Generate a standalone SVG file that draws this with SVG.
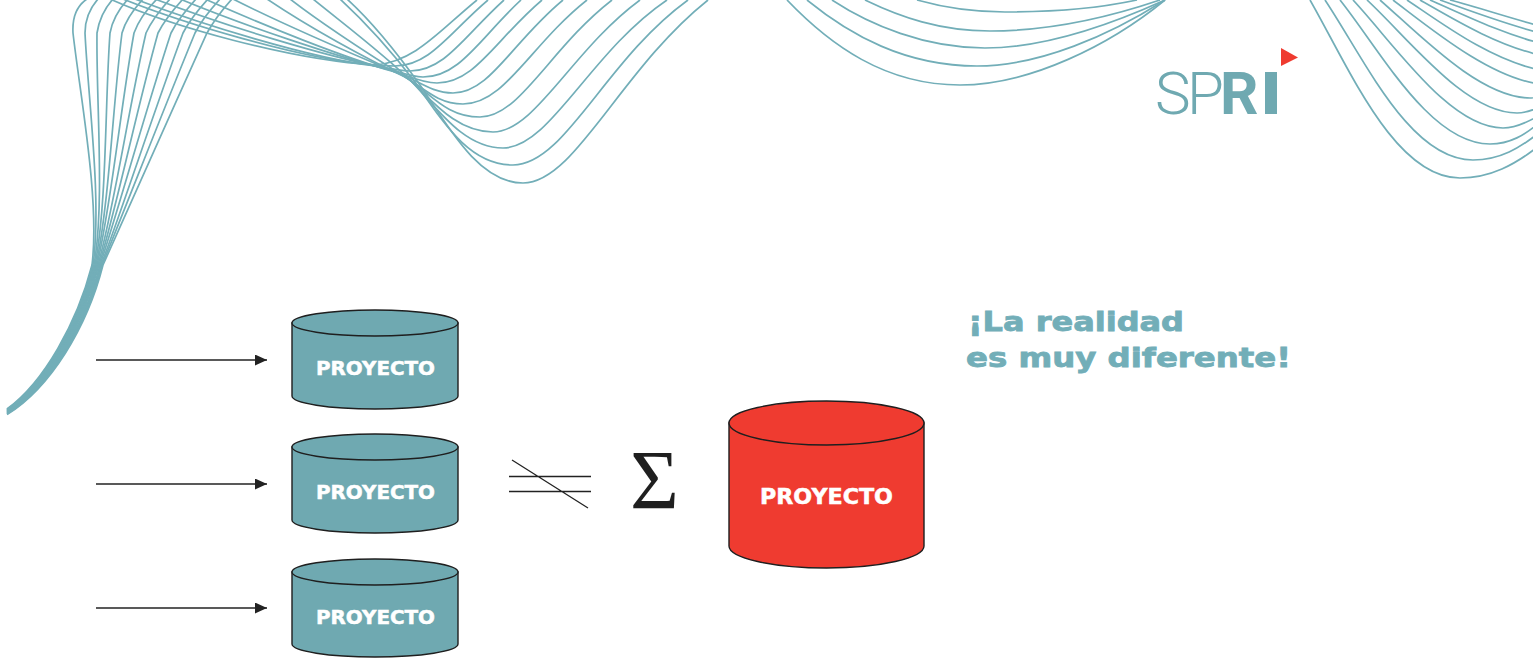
<svg xmlns="http://www.w3.org/2000/svg" width="1533" height="658" viewBox="0 0 1533 658">
<style>
.w{fill:none;stroke:#72aeb8;stroke-width:1.7}
.c{fill:#6fa9b1;stroke:#1f1f1f;stroke-width:1.4}
.r{fill:#ef3b30;stroke:#1f1f1f;stroke-width:1.4}
.a{fill:none;stroke:#222;stroke-width:1.4;marker-end:url(#ah)}
.l{fill:none;stroke:#222;stroke-width:1.3}
.p{font-family:"DejaVu Sans",sans-serif;font-weight:700;fill:#fff;stroke:#fff;stroke-width:.5}
.t{font-family:"DejaVu Sans",sans-serif;font-weight:700;fill:#72aeb8;stroke:#72aeb8;stroke-width:.8;font-size:26px}
.lt{font-family:Roboto,sans-serif;font-weight:300;letter-spacing:-3.500px}
.lb{font-family:Roboto,sans-serif;font-weight:700}
</style>
<defs>
<marker id="ah" markerUnits="userSpaceOnUse" markerWidth="13" markerHeight="12" refX="12" refY="5.500" orient="auto"><path d="M0 0L12 5.500L0 11Z" fill="#222"/></marker>
</defs>
<rect width="1533" height="658" fill="#fff"/>
<g id="waves">
<g id="wave-left-rise">
<path class="w" d="M7 409C44 382 77 323 92 265C100 200 80 95 73 33C72 15 78 5 87 -1"/>
<path class="w" d="M7 409.500C45 383 78 323 93 265C102 201 88 97 85 33C85 20 90 8 98 -1"/>
<path class="w" d="M7 410C45 384 78 324 94 265C105 203 96 99 97 33C99 20 104 9 113 -1"/>
<path class="w" d="M7 410.500C46 384 79 324 95 265C107 204 105 100 110 33C112 22 118 10 128 -1"/>
<path class="w" d="M7 411C46 385 80 325 96 265C109 206 113 102 122 33C125 22 133 10 143 -1"/>
<path class="w" d="M7 411.500C47 385 81 325 97 265C111 207 121 104 134 33C138 22 146 10 157 -1"/>
<path class="w" d="M7 412C47 386 82 326 98 265C114 208 129 106 146 33C151 22 160 10 170 -1"/>
<path class="w" d="M7 412.500C48 386 83 326 99 265C116 210 137 108 158 33C163 23 173 10 183 -1"/>
<path class="w" d="M7 413C48 387 84 327 100 265C118 211 146 109 171 33C176 23 186 10 196 -1"/>
<path class="w" d="M7 413.500C49 387 85 327 101 265C121 213 154 111 183 33C188 23 198 10 208 -1"/>
<path class="w" d="M7 414C49 388 86 328 102 265C123 214 162 113 195 33C200 23 210 10 220 -1"/>
<path class="w" d="M7 414.500C50 388 87 328 103 265C125 215 170 115 207 33C212 24 222 10 232 -1"/>
</g>
<g id="wave-mid">
<path class="w" d="M347 -1C370 20 395 50 420 85C450 130 480 183 523 183C575 183 620 70 708 0"/>
<path class="w" d="M340 -1C365 22 392 52 415 82C445 125 470 165 513 165C565 165 605 60 688 0"/>
<path class="w" d="M313 -1C345 25 385 55 412 82C440 112 465 148 503 148C550 148 590 52 667 0"/>
<path class="w" d="M290 -1C330 30 375 58 410 80C430 98 455 132 493 132C535 132 572 50 640 0"/>
<path class="w" d="M267 -1C310 28 365 58 405 77C430 92 445 117 480 117C520 117 550 48 612 0"/>
<path class="w" d="M233 -1C290 28 355 55 400 74C420 84 435 104 463 104C505 104 530 45 587 0"/>
<path class="w" d="M205 -1C265 26 345 58 395 72C415 78 430 93 453 93C490 93 512 42 563 0"/>
<path class="w" d="M180 -1C245 26 335 56 390 70C405 74 420 83 437 83C475 83 495 40 542 0"/>
<path class="w" d="M155 -1C225 26 325 56 385 68C398 71 410 77 423 77C460 77 480 38 521 0"/>
<path class="w" d="M135 -1C200 24 310 58 375 66C390 68 400 71 410 71C445 71 465 35 504 0"/>
<path class="w" d="M123 -1C185 24 300 58 365 64C375 65 385 66 395 66C430 66 450 32 488 0"/>
<path class="w" d="M110 -1C170 26 290 60 375 65C415 62 440 30 477 0"/>
</g>
<g id="wave-valley">
<path class="w" d="M787 0C830 45 885 85 960 85C1030 85 1110 45 1165 0"/>
<path class="w" d="M807 0C850 35 905 66 977 66C1040 66 1110 35 1165 0"/>
<path class="w" d="M832 0C870 25 925 48 985 48C1045 48 1110 25 1165 0"/>
<path class="w" d="M865 0C900 17 940 31 990 31C1050 31 1110 17 1160 0"/>
<path class="w" d="M917 0C945 8 975 12 1005 12C1060 12 1105 7 1137 0"/>
</g>
<g id="wave-right">
<path class="w" d="M1310 0C1350 70 1395 178 1460 178C1490 178 1515 165 1540 145"/>
<path class="w" d="M1325 0C1365 60 1410 160 1473 160C1500 160 1520 148 1540 132"/>
<path class="w" d="M1340 0C1380 50 1430 144 1490 144C1510 144 1525 135 1540 122"/>
<path class="w" d="M1353 0C1395 45 1450 128 1503 128C1515 128 1528 122 1540 115"/>
<path class="w" d="M1367 0C1410 40 1465 113 1517 113C1525 113 1533 110 1540 107"/>
<path class="w" d="M1380 0C1420 35 1480 98 1530 98C1534 98 1537 97 1540 96"/>
<path class="w" d="M1393 0C1430 28 1490 78 1540 84"/>
<path class="w" d="M1407 0C1440 22 1490 60 1540 70"/>
<path class="w" d="M1420 0C1450 17 1495 45 1540 55"/>
<path class="w" d="M1430 0C1460 13 1500 33 1540 43"/>
<path class="w" d="M1440 0C1470 11 1505 24 1540 33"/>
<path class="w" d="M1450 0C1480 8 1510 18 1540 26"/>
</g>
</g>
<g id="logo">
<text y="114" font-size="60" fill="#6fa9b1"><tspan class="lt" x="1155">SP</tspan><tspan class="lb" x="1220">R</tspan><tspan class="lb" x="1259" textLength="24" lengthAdjust="spacingAndGlyphs">I</tspan></text>
<path d="M1281 48L1298 57.500L1281 66Z" fill="#ef3b30"/>
</g>
<g id="connectors">
<path class="a" d="M96 360H267"/>
<path class="a" d="M96 484H267"/>
<path class="a" d="M96 608H267"/>
</g>
<g id="node-1">
<path class="c" d="M292 323V396A83 13 0 0 0 458 396V323Z"/>
<ellipse class="c" cx="375" cy="323" rx="83" ry="13"/>
<text class="p" x="316" y="375" font-size="19" textLength="119" lengthAdjust="spacingAndGlyphs">PROYECTO</text>
</g>
<g id="node-2">
<path class="c" d="M292 447V520A83 13 0 0 0 458 520V447Z"/>
<ellipse class="c" cx="375" cy="447" rx="83" ry="13"/>
<text class="p" x="316" y="499" font-size="19" textLength="119" lengthAdjust="spacingAndGlyphs">PROYECTO</text>
</g>
<g id="node-3">
<path class="c" d="M292 572V644A83 13 0 0 0 458 644V572Z"/>
<ellipse class="c" cx="375" cy="572" rx="83" ry="13"/>
<text class="p" x="316" y="624" font-size="19" textLength="119" lengthAdjust="spacingAndGlyphs">PROYECTO</text>
</g>
<g id="not-equal">
<path class="l" d="M509 476.500H591M509 491.500H591M512 460L588 508"/>
</g>
<g id="sigma">
<text x="630" y="509" font-family="'Liberation Serif',serif" font-size="84" fill="#1f1f1f">Σ</text>
</g>
<g id="node-total">
<path class="r" d="M729 423V546A97.500 22 0 0 0 924 546V423Z"/>
<ellipse class="r" cx="826.500" cy="423" rx="97.500" ry="22"/>
<text class="p" x="760" y="504" font-size="21" textLength="133" lengthAdjust="spacingAndGlyphs">PROYECTO</text>
</g>
<g id="caption">
<text class="t" x="968" y="331" textLength="216" lengthAdjust="spacingAndGlyphs">¡La realidad</text>
<text class="t" x="966" y="367" textLength="325" lengthAdjust="spacingAndGlyphs">es muy diferente!</text>
</g>
</svg>
